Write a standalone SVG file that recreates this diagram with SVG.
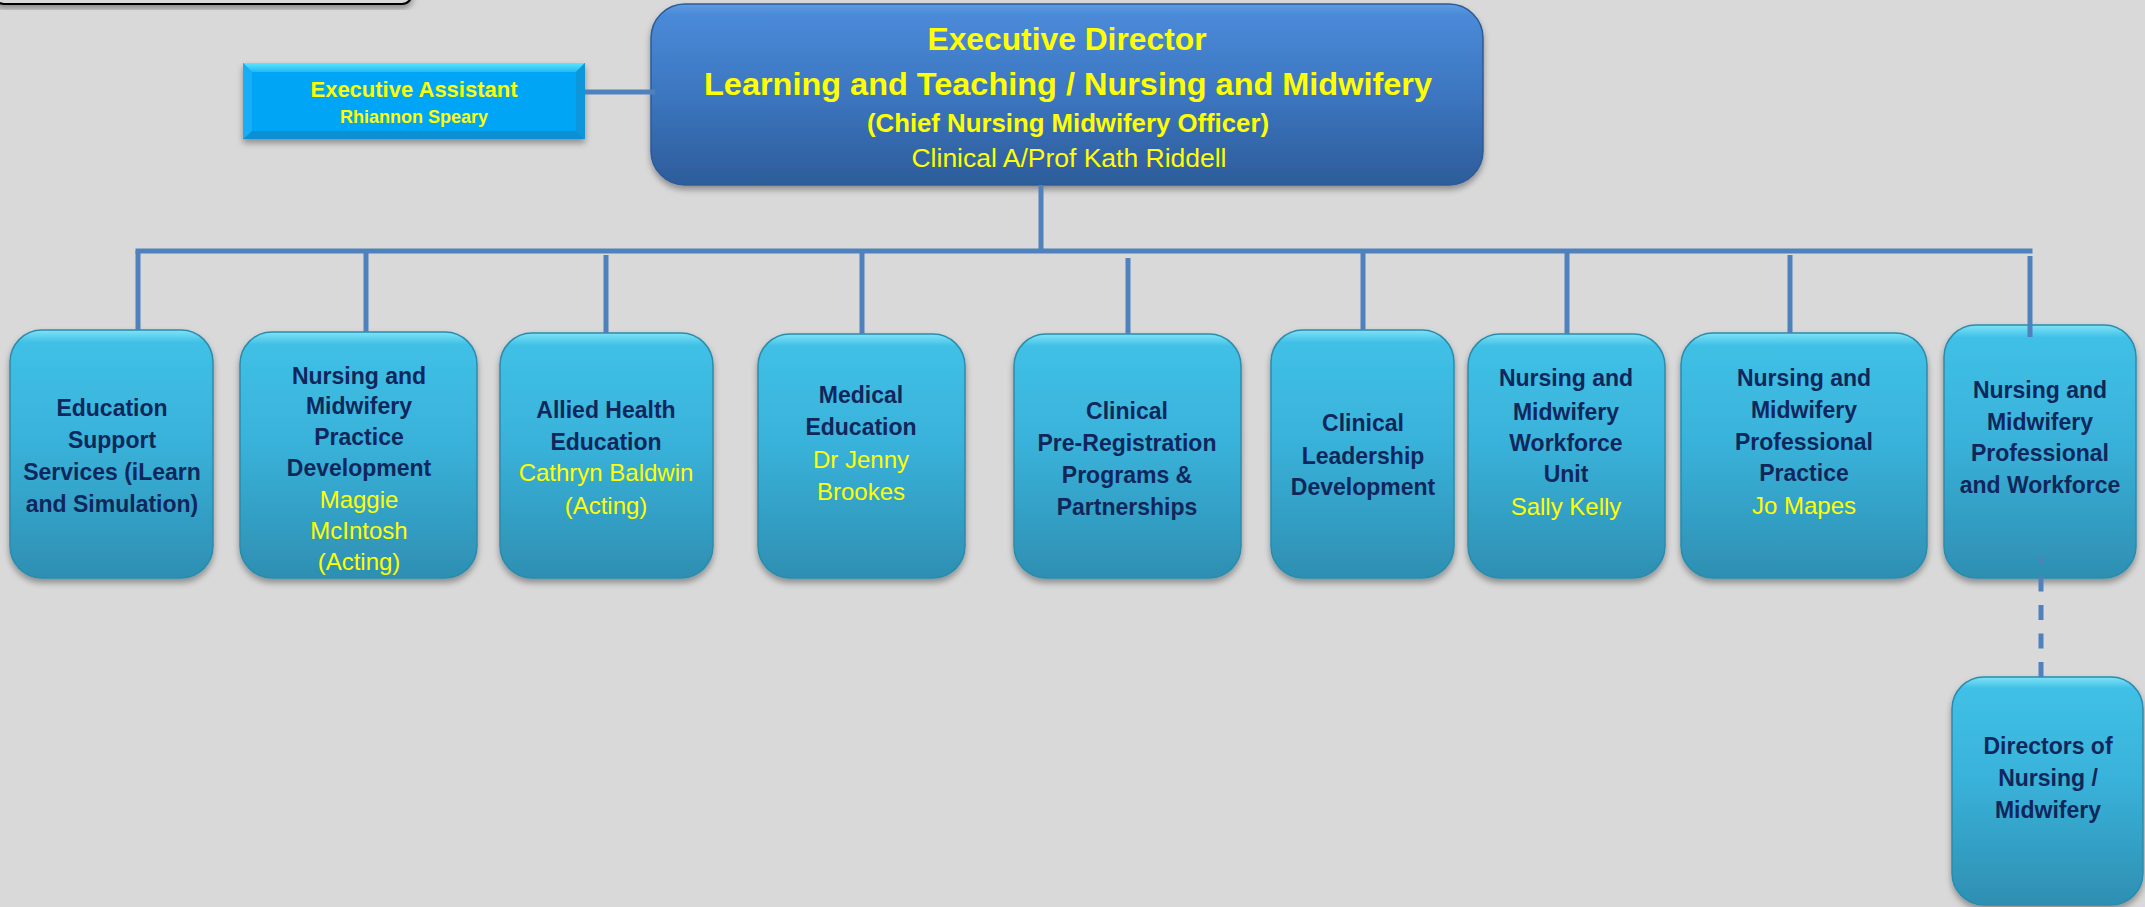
<svg xmlns="http://www.w3.org/2000/svg" width="2145" height="907" viewBox="0 0 2145 907">
<style>
.t{font-family:"Liberation Sans",Arial,sans-serif;text-anchor:middle}
.h{font-weight:bold;fill:#ffff00}
.hn{font-weight:normal;fill:#ffff00}
.b{font-weight:bold;fill:#10275c;font-size:23px}
.n{font-weight:normal;fill:#ffff00;font-size:24px}
.box{fill:url(#gBox);stroke:#2a8cad;stroke-width:1.5;filter:url(#sh)}
.conn{stroke:#4f81bd;stroke-width:5;fill:none}
</style>
<defs>
<linearGradient id="gBox" x1="0" y1="0" x2="0" y2="1">
<stop offset="0" stop-color="#7fe3f7"/>
<stop offset="0.05" stop-color="#40c0e6"/>
<stop offset="0.45" stop-color="#39b2da"/>
<stop offset="1" stop-color="#2e8fb2"/>
</linearGradient>
<linearGradient id="gExec" x1="0" y1="0" x2="0" y2="1">
<stop offset="0" stop-color="#5e9ce2"/>
<stop offset="0.06" stop-color="#4a8ad8"/>
<stop offset="0.5" stop-color="#3c76c0"/>
<stop offset="1" stop-color="#2d5c9a"/>
</linearGradient>
<linearGradient id="gTop" x1="0" y1="0" x2="0" y2="1">
<stop offset="0" stop-color="#5ae6ff"/>
<stop offset="1" stop-color="#22b8f6"/>
</linearGradient>
<filter id="sh" x="-10%" y="-10%" width="120%" height="125%">
<feDropShadow dx="0" dy="4" stdDeviation="3" flood-color="#000" flood-opacity="0.35"/>
</filter>
</defs>
<rect x="0" y="0" width="2145" height="907" fill="#d9d9d9"/>
<rect x="-6" y="-30" width="418" height="34" rx="10" fill="#d9d9d9" stroke="#000" stroke-width="2" filter="url(#sh)"/>

<g id="node-ea">
<g filter="url(#sh)">
<rect x="243" y="63" width="342" height="76" fill="#05a5f5"/>
<polygon points="243,63 585,63 576,72 252,72" fill="url(#gTop)"/>
<polygon points="243,139 585,139 576,131 252,131" fill="#0b8fd4"/>
<polygon points="243,63 252,72 252,131 243,139" fill="#18aef6"/>
<polygon points="585,63 576,72 576,131 585,139" fill="#0a96da"/>
</g>
<text class="t h" x="414" y="97" font-size="22">Executive Assistant</text>
<text class="t h" x="414" y="123" font-size="18">Rhiannon Speary</text>
</g>

<g id="node-exec">
<rect x="651" y="4" width="832" height="181" rx="34" fill="url(#gExec)" stroke="#2b5b97" stroke-width="1.5" filter="url(#sh)"/>
<text class="t h" x="1067" y="50" font-size="32" textLength="279" lengthAdjust="spacingAndGlyphs">Executive Director</text>
<text class="t h" x="1068" y="95" font-size="32" textLength="728" lengthAdjust="spacingAndGlyphs">Learning and Teaching / Nursing and Midwifery</text>
<text class="t h" x="1068" y="132" font-size="25.5" textLength="402" lengthAdjust="spacingAndGlyphs">(Chief Nursing Midwifery Officer)</text>
<text class="t hn" x="1069" y="167" font-size="26" textLength="315" lengthAdjust="spacingAndGlyphs">Clinical A/Prof Kath Riddell</text>
</g>

<g id="node-ess">
<rect class="box" x="10" y="330" width="203" height="248" rx="32"/>
<text class="t b" x="112" y="416">Education</text>
<text class="t b" x="112" y="448">Support</text>
<text class="t b" x="112" y="480">Services (iLearn</text>
<text class="t b" x="112" y="512">and Simulation)</text>
</g>

<g id="node-nmpd">
<rect class="box" x="240" y="332" width="237" height="246" rx="32"/>
<text class="t b" x="359" y="384">Nursing and</text>
<text class="t b" x="359" y="414">Midwifery</text>
<text class="t b" x="359" y="445">Practice</text>
<text class="t b" x="359" y="476">Development</text>
<text class="t n" x="359" y="508">Maggie</text>
<text class="t n" x="359" y="539">McIntosh</text>
<text class="t n" x="359" y="570" font-size="21">(Acting)</text>
</g>

<g id="node-ahe">
<rect class="box" x="500" y="333" width="213" height="245" rx="32"/>
<text class="t b" x="606" y="418">Allied Health</text>
<text class="t b" x="606" y="450">Education</text>
<text class="t n" x="606" y="481">Cathryn Baldwin</text>
<text class="t n" x="606" y="514">(Acting)</text>
</g>

<g id="node-med">
<rect class="box" x="758" y="334" width="207" height="244" rx="32"/>
<text class="t b" x="861" y="403">Medical</text>
<text class="t b" x="861" y="435">Education</text>
<text class="t n" x="861" y="468">Dr Jenny</text>
<text class="t n" x="861" y="500">Brookes</text>
</g>

<g id="node-prereg">
<rect class="box" x="1014" y="334" width="227" height="244" rx="32"/>
<text class="t b" x="1127" y="419">Clinical</text>
<text class="t b" x="1127" y="451">Pre-Registration</text>
<text class="t b" x="1127" y="483">Programs &amp;</text>
<text class="t b" x="1127" y="515">Partnerships</text>
</g>

<g id="node-cld">
<rect class="box" x="1271" y="330" width="183" height="248" rx="32"/>
<text class="t b" x="1363" y="431">Clinical</text>
<text class="t b" x="1363" y="464">Leadership</text>
<text class="t b" x="1363" y="495">Development</text>
</g>

<g id="node-nmwu">
<rect class="box" x="1468" y="334" width="197" height="244" rx="32"/>
<text class="t b" x="1566" y="386">Nursing and</text>
<text class="t b" x="1566" y="420">Midwifery</text>
<text class="t b" x="1566" y="451">Workforce</text>
<text class="t b" x="1566" y="482">Unit</text>
<text class="t n" x="1566" y="515">Sally Kelly</text>
</g>

<g id="node-nmpp">
<rect class="box" x="1681" y="333" width="246" height="245" rx="32"/>
<text class="t b" x="1804" y="386">Nursing and</text>
<text class="t b" x="1804" y="418">Midwifery</text>
<text class="t b" x="1804" y="450">Professional</text>
<text class="t b" x="1804" y="481">Practice</text>
<text class="t n" x="1804" y="514">Jo Mapes</text>
</g>

<g id="node-nmpw">
<rect class="box" x="1944" y="325" width="192" height="253" rx="32"/>
<text class="t b" x="2040" y="398">Nursing and</text>
<text class="t b" x="2040" y="430">Midwifery</text>
<text class="t b" x="2040" y="461">Professional</text>
<text class="t b" x="2040" y="493">and Workforce</text>
</g>

<g id="node-don">
<rect class="box" x="1952" y="677" width="191" height="228" rx="32"/>
<text class="t b" x="2048" y="754">Directors of</text>
<text class="t b" x="2048" y="786">Nursing /</text>
<text class="t b" x="2048" y="818">Midwifery</text>
</g>

<g id="connectors">
<path class="conn" d="M585 92 H655"/>
<path class="conn" d="M1041 185 V253"/>
<path class="conn" d="M135.5 251 H2032.5"/>
<path class="conn" d="M138 251 V330"/>
<path class="conn" d="M366 251 V332"/>
<path class="conn" d="M606 255 V333"/>
<path class="conn" d="M862 249 V334"/>
<path class="conn" d="M1128 258 V334"/>
<path class="conn" d="M1363 251 V330"/>
<path class="conn" d="M1567 249 V334"/>
<path class="conn" d="M1790 255 V333"/>
<path class="conn" d="M2030 256 V337"/>
<path class="conn" d="M2041 677 V557" stroke-dasharray="15 13.5"/>
</g>
</svg>
